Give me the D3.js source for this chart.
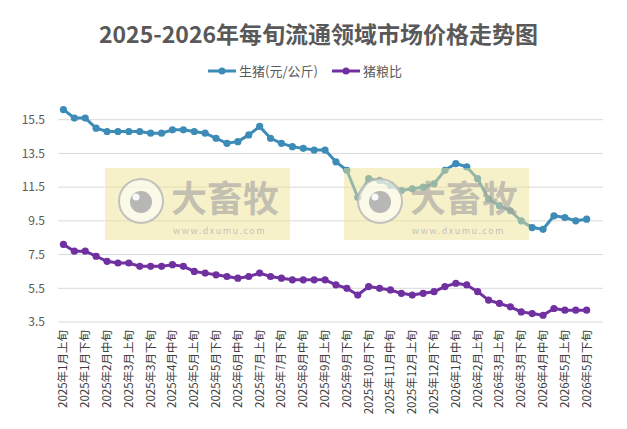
<!DOCTYPE html>
<html>
<head>
<meta charset="utf-8">
<script src="https://cdn.jsdelivr.net/npm/d3@7"></script>
<style>
  body { margin: 0; background: #fff; }
  text { font-family: "Noto Sans CJK SC", "Noto Sans", sans-serif; }
</style>
</head>
<body>
<div id="chart"></div>
<script>
// categories (one per ten days, a couple of periods missing in the source)
var periods = [
  "2025年1月上旬","2025年1月中旬","2025年1月下旬","2025年2月上旬","2025年2月中旬","2025年2月下旬",
  "2025年3月上旬","2025年3月中旬","2025年3月下旬","2025年4月上旬","2025年4月中旬","2025年4月下旬",
  "2025年5月上旬","2025年5月中旬","2025年5月下旬","2025年6月上旬","2025年6月中旬","2025年6月下旬",
  "2025年7月上旬","2025年7月中旬","2025年7月下旬","2025年8月上旬","2025年8月中旬","2025年8月下旬",
  "2025年9月上旬","2025年9月中旬","2025年9月下旬","2025年10月中旬","2025年10月下旬",
  "2025年11月上旬","2025年11月中旬","2025年11月下旬","2025年12月上旬","2025年12月中旬","2025年12月下旬",
  "2026年1月上旬","2026年1月中旬","2026年1月下旬","2026年2月上旬","2026年2月下旬",
  "2026年3月上旬","2026年3月中旬","2026年3月下旬","2026年4月上旬","2026年4月中旬","2026年4月下旬",
  "2026年5月上旬","2026年5月中旬","2026年5月下旬"
];

// 生猪 (元/公斤)
var hogPrice = [
  16.1, 15.6, 15.6, 15.0, 14.8, 14.8, 14.8, 14.8, 14.7, 14.7, 14.9, 14.9,
  14.8, 14.7, 14.4, 14.1, 14.2, 14.6, 15.1, 14.4, 14.1, 13.9, 13.8, 13.7,
  13.7, 13.0, 12.5, 10.9, 12.0, 11.9, 11.6, 11.3, 11.4, 11.5, 11.7,
  12.5, 12.9, 12.7, 12.0, 10.8, 10.4, 10.1, 9.5, 9.1, 9.0, 9.8, 9.7, 9.5, 9.6
];

// 猪粮比
var hogGrainRatio = [
  8.1, 7.7, 7.7, 7.4, 7.1, 7.0, 7.0, 6.8, 6.8, 6.8, 6.9, 6.8,
  6.5, 6.4, 6.3, 6.2, 6.1, 6.2, 6.4, 6.2, 6.1, 6.0, 6.0, 6.0,
  6.0, 5.7, 5.5, 5.1, 5.6, 5.5, 5.4, 5.2, 5.1, 5.2, 5.3,
  5.6, 5.8, 5.7, 5.3, 4.8, 4.6, 4.4, 4.1, 4.0, 3.9, 4.3, 4.2, 4.2, 4.2
];

var yTicks = [3.5, 5.5, 7.5, 9.5, 11.5, 13.5, 15.5];

var series = [
  { name: "生猪(元/公斤)", values: hogPrice, color: "#3d8bb7" },
  { name: "猪粮比", values: hogGrainRatio, color: "#7030a0" }
];

const W = 627, H = 429;
const margin = { top: 86, right: 24, bottom: 107, left: 58 };
const width = W - margin.left - margin.right,
  height = H - margin.top - margin.bottom;

const svg = d3.select("#chart").append("svg")
  .attr("width", W).attr("height", H);

// title
svg.append("text")
  .attr("x", W / 2 + 5).attr("y", 43)
  .attr("text-anchor", "middle")
  .attr("font-size", "23px")
  .attr("font-weight", "bold")
  .attr("fill", "#595959")
  .text("2025-2026年每旬流通领域市场价格走势图");

// legend
var legendX = [208, 332];
series.forEach(function (s, i) {
  var lg = svg.append("g").attr("transform", `translate(${legendX[i]}, 71)`);
  lg.append("line").attr("x1", 0).attr("x2", 28).attr("y1", 0).attr("y2", 0)
    .attr("stroke", s.color).attr("stroke-width", 3);
  lg.append("circle").attr("cx", 14).attr("cy", 0).attr("r", 3.5).attr("fill", s.color);
  lg.append("text").attr("x", 31).attr("y", 5)
    .attr("font-size", "13px").attr("fill", "#595959").text(s.name);
});

const g = svg.append("g").attr("transform", `translate(${margin.left}, ${margin.top})`);

// one empty slot after the last period, as in the source chart
const x = d3.scaleBand().domain(periods.concat([""])).range([0, width]);
const y = d3.scaleLinear().domain([3.5, 17.5]).range([height, 0]);

// gridlines
g.append("g")
  .selectAll("line")
  .data(yTicks)
  .join("line")
  .attr("x1", 0).attr("x2", width)
  .attr("y1", function (d) { return y(d); })
  .attr("y2", function (d) { return y(d); })
  .attr("stroke", "#d9d9d9").attr("stroke-width", 1);

// y axis labels
g.append("g")
  .call(d3.axisLeft(y).tickValues(yTicks).tickSize(0).tickPadding(13)
    .tickFormat(function (d) { return d3.format(".1f")(d); }))
  .call(function (a) { a.select(".domain").remove(); })
  .selectAll("text")
  .attr("font-size", "12px")
  .attr("fill", "#595959");

// x axis labels, every other period
g.append("g")
  .attr("transform", `translate(0, ${height})`)
  .call(d3.axisBottom(x).tickSize(0)
    .tickValues(periods.filter(function (d, i) { return i % 2 === 0; })))
  .call(function (a) { a.select(".domain").remove(); })
  .selectAll("text")
  .attr("font-size", "11.5px")
  .attr("fill", "#404040")
  .attr("text-anchor", "end")
  .attr("transform", "rotate(-90)")
  .attr("x", -8)
  .attr("y", 0)
  .attr("dy", "0.35em");

// lines + markers
const line = d3.line()
  .x(function (d, i) { return x(periods[i]) + x.bandwidth() / 2; })
  .y(function (d) { return y(d); });

series.forEach(function (s) {
  g.append("path")
    .datum(s.values)
    .attr("fill", "none")
    .attr("stroke", s.color)
    .attr("stroke-width", 3)
    .attr("stroke-linejoin", "round")
    .attr("d", line);
  g.append("g")
    .selectAll("circle")
    .data(s.values)
    .join("circle")
    .attr("cx", function (d, i) { return x(periods[i]) + x.bandwidth() / 2; })
    .attr("cy", function (d) { return y(d); })
    .attr("r", 3.6)
    .attr("fill", s.color);
});

// watermarks drawn over the chart
[105, 344].forEach(function (wx) {
  var wm = svg.append("g").attr("transform", `translate(${wx}, 168)`);
  wm.append("rect").attr("width", 185).attr("height", 72)
    .attr("fill", "rgba(240, 228, 150, 0.5)");
  wm.append("circle").attr("cx", 36).attr("cy", 33).attr("r", 22)
    .attr("fill", "rgba(255,255,255,0.55)")
    .attr("stroke", "rgba(185,185,185,0.85)").attr("stroke-width", 2);
  wm.append("circle").attr("cx", 36).attr("cy", 34).attr("r", 11)
    .attr("fill", "rgba(175,175,175,0.9)");
  wm.append("circle").attr("cx", 31).attr("cy", 29).attr("r", 3.5)
    .attr("fill", "rgba(255,255,255,0.9)");
  wm.append("text").attr("x", 66).attr("y", 44)
    .attr("font-size", "36px").attr("font-weight", "bold")
    .attr("fill", "rgba(160,160,160,0.6)")
    .text("大畜牧");
  wm.append("text").attr("x", 68).attr("y", 66)
    .attr("font-size", "9px").attr("letter-spacing", "1.5px")
    .attr("fill", "rgba(170,170,170,0.7)")
    .text("www.dxumu.com");
});
</script>
</body>
</html>
